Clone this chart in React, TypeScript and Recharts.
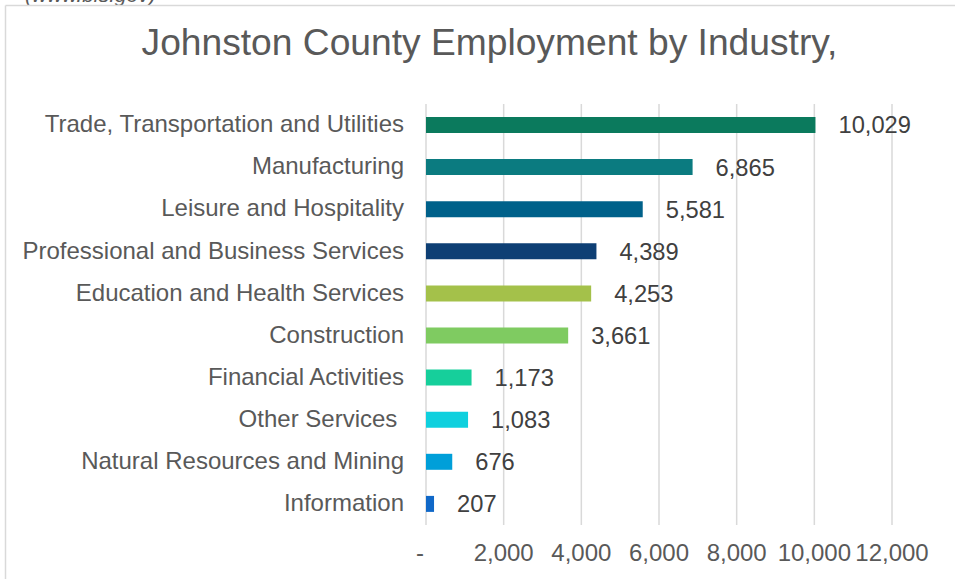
import React from "react";
import { BarChart, Bar, XAxis, YAxis, CartesianGrid, Cell, LabelList } from "recharts";

const categories = [
  "Trade, Transportation and Utilities",
  "Manufacturing",
  "Leisure and Hospitality",
  "Professional and Business Services",
  "Education and Health Services",
  "Construction",
  "Financial Activities",
  "Other Services\u00A0",
  "Natural Resources and Mining",
  "Information",
];
const employment = [10029, 6865, 5581, 4389, 4253, 3661, 1173, 1083, 676, 207];
const barColors = [
  "#0b7a5d",
  "#0b7b80",
  "#00618a",
  "#0e3f74",
  "#a4c14a",
  "#7fcb61",
  "#16cf9b",
  "#0fd0de",
  "#009fd9",
  "#1068c8",
];
const xTicks = [0, 2000, 4000, 6000, 8000, 10000, 12000];
const title = "Johnston County Employment by Industry,";
const sourceText = "(www.bls.gov)";

const data = categories.map((name, i) => ({ name, value: employment[i] }));

const FONT = '"Liberation Sans", Arial, sans-serif';

const fmt = (v: number) => (v === 0 ? "-" : v.toLocaleString("en-US"));

const XTick = (props: any) => {
  const { x, y, payload } = props;
  const v = payload.value as number;
  return (
    <text
      x={x + (v === 0 ? -6 : 0)}
      y={y + 36}
      textAnchor="middle"
      fill="#595959"
      fontSize={24}
      fontFamily={FONT}
    >
      {fmt(v)}
    </text>
  );
};

const YTick = (props: any) => {
  const { x, y, payload } = props;
  return (
    <text
      x={x - 22}
      y={y}
      dy="0.3em"
      textAnchor="end"
      fill="#595959"
      fontSize={24}
      fontFamily={FONT}
      style={{ whiteSpace: "pre" }}
    >
      {payload.value}
    </text>
  );
};

export default function App() {
  return (
    <div
      style={{
        position: "fixed",
        left: 0,
        top: 0,
        width: 955,
        height: 579,
        overflow: "hidden",
        background: "#ffffff",
      }}
    >
      <div style={{ position: "absolute", left: 0, top: 0 }}>
        <BarChart
          width={955}
          height={579}
          data={data}
          layout="vertical"
          margin={{ top: 104, right: 63, bottom: 0, left: 0 }}
        >
          <CartesianGrid horizontal={false} stroke="#d9d9d9" strokeWidth={1.5} />
          <XAxis
            type="number"
            domain={[0, 12000]}
            ticks={xTicks}
            axisLine={false}
            tickLine={false}
            tickSize={0}
            tickMargin={0}
            height={54}
            tick={<XTick />}
            interval={0}
          />
          <YAxis
            type="category"
            dataKey="name"
            width={426}
            axisLine={false}
            tickLine={false}
            tickSize={0}
            tickMargin={0}
            tick={<YTick />}
            interval={0}
          />
          <Bar dataKey="value" barSize={16} isAnimationActive={false}>
            {data.map((d, i) => (
              <Cell key={d.name} fill={barColors[i]} />
            ))}
            <LabelList
              dataKey="value"
              position="right"
              offset={23}
              fill="#404040"
              fontSize={23.7}
              fontFamily={FONT}
              formatter={(v: any) => Number(v).toLocaleString("en-US")}
            />
          </Bar>
        </BarChart>
      </div>
      <svg
        width={955}
        height={579}
        style={{ position: "absolute", left: 0, top: 0, pointerEvents: "none" }}
      >
        <text
          x={25}
          y={1.5}
          fontSize={21}
          fontStyle="italic"
          fill="#595959"
          fontFamily={FONT}
        >
          {sourceText}
        </text>
        <line x1={5.5} y1={5.5} x2={955} y2={5.5} stroke="#d9d9d9" strokeWidth={1.5} />
        <line x1={5.5} y1={5.5} x2={5.5} y2={579} stroke="#d9d9d9" strokeWidth={1.5} />
        <text
          x={489.5}
          y={55}
          textAnchor="middle"
          fontSize={37.2}
          fill="#595959"
          fontFamily={FONT}
        >
          {title}
        </text>
      </svg>
    </div>
  );
}
